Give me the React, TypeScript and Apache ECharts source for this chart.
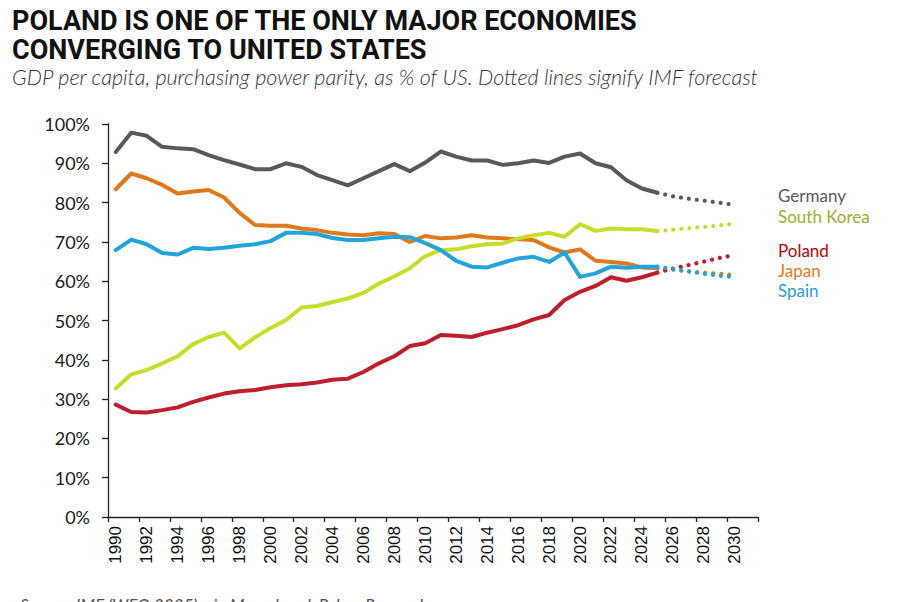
import React, { useEffect, useRef } from "react";
import * as echarts from "echarts";

// Years on the category axis (an empty 2031 slot closes the axis on the right)
const years: string[] = [];
for (let y = 1990; y <= 2031; y++) years.push(String(y));

// GDP per capita (PPP) as % of the US, 1990–2025
const germanyHist = [92.9, 97.8, 97.0, 94.2, 93.8, 93.6, 92.1, 90.8, 89.7, 88.5, 88.5, 90.0, 89.1, 87.0, 85.7, 84.4, 86.2, 88.0, 89.8, 88.0, 90.2, 93.0, 91.7, 90.7, 90.7, 89.6, 90.0, 90.7, 90.1, 91.7, 92.5, 90.0, 89.0, 85.7, 83.6, 82.5];
const japanHist = [83.4, 87.4, 86.2, 84.5, 82.3, 82.8, 83.2, 81.3, 77.4, 74.3, 74.1, 74.1, 73.4, 73.0, 72.3, 71.9, 71.7, 72.2, 72.0, 70.0, 71.5, 70.9, 71.1, 71.7, 71.1, 70.9, 70.7, 70.5, 68.6, 67.3, 68.1, 65.2, 64.9, 64.5, 63.5, 63.3];
const spainHist = [67.9, 70.6, 69.4, 67.2, 66.8, 68.5, 68.2, 68.5, 69.0, 69.4, 70.2, 72.3, 72.3, 72.0, 71.0, 70.5, 70.5, 70.9, 71.3, 71.2, 69.7, 67.9, 65.2, 63.7, 63.5, 64.7, 65.8, 66.2, 64.9, 67.3, 61.1, 62.0, 63.7, 63.4, 63.7, 63.7];
const koreaHist = [32.7, 36.3, 37.4, 39.1, 40.9, 44.0, 45.8, 46.9, 42.9, 45.7, 48.1, 50.1, 53.3, 53.7, 54.7, 55.6, 57.0, 59.4, 61.2, 63.3, 66.4, 67.9, 68.1, 68.9, 69.4, 69.6, 70.9, 71.7, 72.3, 71.3, 74.5, 72.8, 73.4, 73.2, 73.2, 72.8];
const polandHist = [28.6, 26.7, 26.6, 27.2, 27.9, 29.3, 30.4, 31.4, 32.0, 32.3, 33.0, 33.5, 33.8, 34.2, 34.9, 35.2, 36.9, 39.1, 40.9, 43.5, 44.2, 46.3, 46.1, 45.8, 46.9, 47.8, 48.8, 50.3, 51.4, 55.2, 57.3, 58.8, 61.0, 60.1, 61.0, 62.2];

// IMF forecast, 2025–2030
const germanyFcst = [82.5, 81.6, 81.0, 80.5, 80.0, 79.4];
const koreaFcst = [72.8, 73.1, 73.5, 73.8, 74.2, 74.6];
const polandFcst = [62.2, 63.2, 64.1, 65.0, 65.9, 66.7];
const japanFcst = [63.3, 62.9, 62.5, 62.2, 61.9, 61.6];
const spainFcst = [63.7, 63.1, 62.5, 61.9, 61.4, 61.0];

const FORECAST_START = 2025;

const COLORS = {
  germany: "#595959",
  japan: "#E0791C",
  spain: "#22A5DD",
  korea: "#C8DC2C",
  poland: "#BF1E2E",
};

function histData(vals: number[]) {
  return years.map((_, i) => (i < vals.length ? vals[i] : null));
}

function fcstData(vals: number[]) {
  const start = FORECAST_START - 1990;
  return years.map((_, i) =>
    i >= start && i - start < vals.length ? vals[i - start] : null
  );
}

function solid(name: string, color: string, vals: number[]) {
  return {
    name,
    type: "line",
    data: histData(vals),
    showSymbol: false,
    symbol: "none",
    lineStyle: { color, width: 4, cap: "round", join: "round" },
    connectNulls: false,
  };
}

function dotted(name: string, color: string, vals: number[]) {
  return {
    name: name + " (forecast)",
    type: "line",
    data: fcstData(vals),
    showSymbol: false,
    symbol: "none",
    lineStyle: { color, width: 4.2, type: [0.01, 8], cap: "round" },
  };
}

export default function App() {
  const ref = useRef<HTMLDivElement>(null);

  useEffect(() => {
    document.body.style.margin = "0";
    if (!ref.current) return;
    const chart = echarts.init(ref.current, undefined, { renderer: "svg" });

    const labelFont = "Lato, 'Open Sans', sans-serif";
    const legendItems = [
      { text: "Germany", color: "#595959", y: 197 },
      { text: "South Korea", color: "#9DAF2B", y: 218 },
      { text: "Poland", color: "#C00000", y: 252 },
      { text: "Japan", color: "#E07B22", y: 272 },
      { text: "Spain", color: "#2E9BD2", y: 292 },
    ];

    chart.setOption({
      animation: false,
      backgroundColor: "#ffffff",
      grid: { left: 108, right: 162, top: 124, bottom: 85, containLabel: false },
      xAxis: {
        type: "category",
        data: years,
        boundaryGap: true,
        axisLine: { show: true, lineStyle: { color: "#222", width: 1.3 } },
        axisTick: { show: true, interval: 1, length: 5, lineStyle: { color: "#222", width: 1.3 } },
        axisLabel: {
          interval: 1,
          rotate: 90,
          fontFamily: "'Liberation Sans', Arial, sans-serif",
          fontSize: 17,
          color: "#111",
          margin: 9,
        },
        splitLine: { show: false },
      },
      yAxis: {
        type: "value",
        min: 0,
        max: 100,
        interval: 10,
        axisLine: { show: true, lineStyle: { color: "#222", width: 1.3 } },
        axisTick: { show: true, length: 6, lineStyle: { color: "#222", width: 1.3 } },
        axisLabel: {
          formatter: "{value}%",
          fontFamily: labelFont,
          fontSize: 18,
          color: "#1a1a1a",
          margin: 18,
        },
        splitLine: { show: false },
      },
      series: [
        solid("Germany", COLORS.germany, germanyHist),
        dotted("Germany", COLORS.germany, germanyFcst),
        solid("Japan", COLORS.japan, japanHist),
        dotted("Japan", COLORS.japan, japanFcst),
        solid("South Korea", COLORS.korea, koreaHist),
        dotted("South Korea", COLORS.korea, koreaFcst),
        solid("Poland", COLORS.poland, polandHist),
        dotted("Poland", COLORS.poland, polandFcst),
        solid("Spain", COLORS.spain, spainHist),
        dotted("Spain", COLORS.spain, spainFcst),
      ],
      graphic: [
        {
          type: "text",
          left: 12,
          top: 6,
          style: {
            text: "POLAND IS ONE OF THE ONLY MAJOR ECONOMIES\nCONVERGING TO UNITED STATES",
            font: "bold 27px Roboto, sans-serif",
            fill: "#111",
            lineHeight: 29,
          },
        },
        {
          type: "text",
          left: 12,
          top: 66,
          style: {
            text: "GDP per capita, purchasing power parity, as % of US. Dotted lines signify IMF forecast",
            font: "italic 300 21.5px Lato, sans-serif",
            fill: "#333",
          },
        },
        ...legendItems.map((it) => ({
          type: "text",
          left: 778,
          top: it.y - 10,
          style: {
            text: it.text,
            font: "17px " + labelFont,
            fill: it.color,
          },
        })),
        {
          type: "text",
          left: 20,
          top: 597,
          style: {
            text: "Source: IMF (WEO 2025), via Macrobond, Pekao Research",
            font: "italic 17px " + labelFont,
            fill: "#555",
          },
        },
      ],
    });

    return () => chart.dispose();
  }, []);

  return <div ref={ref} style={{ width: 920, height: 602 }} />;
}
